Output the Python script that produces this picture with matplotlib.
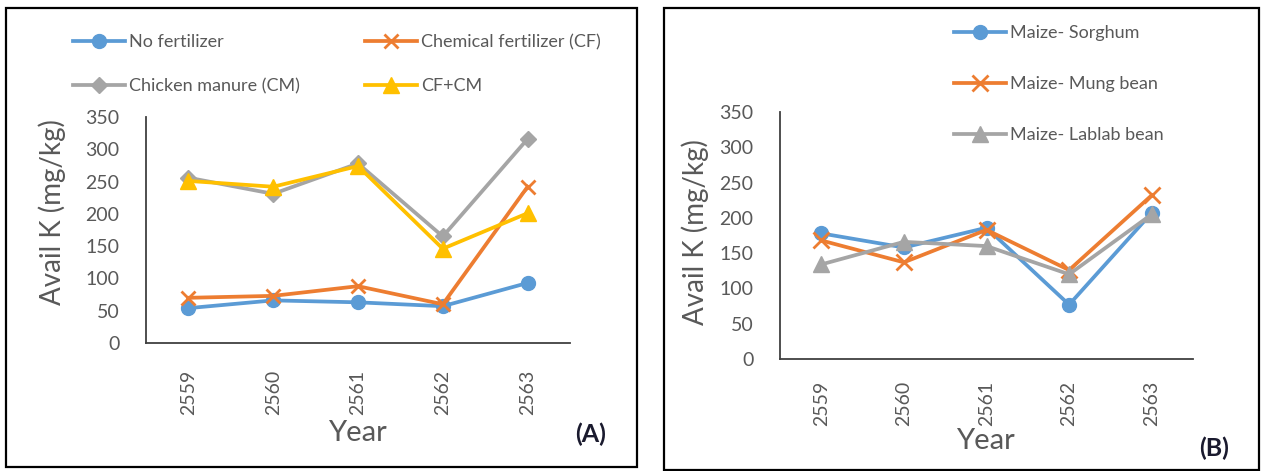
import matplotlib
matplotlib.use('Agg')
import matplotlib.pyplot as plt
from matplotlib.patches import Rectangle

# ---- data ----
years = ['2559', '2560', '2561', '2562', '2563']
a_no_fertilizer = [54, 66, 63, 57, 93]
a_chemical = [70, 73, 88, 60, 242]
a_manure = [256, 231, 278, 165, 316]
a_cf_cm = [251, 242, 274, 146, 201]
b_sorghum = [178, 158, 186, 77, 207]
b_mung = [168, 137, 183, 126, 232]
b_lablab = [134, 166, 160, 120, 205]
yticks = [0, 50, 100, 150, 200, 250, 300, 350]

BLUE, ORANGE, GRAY, YELLOW = '#5B9BD5', '#ED7D31', '#A5A5A5', '#FFC000'
TXT = '#595959'
FONT = 'Lato'
plt.rcParams['font.family'] = [FONT, 'DejaVu Sans']

W, H = 1264, 471
fig = plt.figure(figsize=(W / 100, H / 100), dpi=100)


def box(l, t, r, b):
    return [l / W, 1 - b / H, (r - l) / W, (b - t) / H]


def frame(l, t, r, b):
    rect = Rectangle((l / W, 1 - b / H), (r - l) / W, (b - t) / H,
                     transform=fig.transFigure, fill=False, lw=1.6, ec='black')
    fig.patches.append(rect)


frame(6, 8, 637, 467)
frame(664, 8, 1259, 470)

styles_a = [
    (a_no_fertilizer, 'No fertilizer', BLUE, 'o', 10),
    (a_chemical, 'Chemical fertilizer (CF)', ORANGE, 'x', 10),
    (a_manure, 'Chicken manure (CM)', GRAY, 'D', 8.5),
    (a_cf_cm, 'CF+CM', YELLOW, '^', 11),
]
styles_b = [
    (b_sorghum, 'Maize- Sorghum', BLUE, 'o', 10),
    (b_mung, 'Maize- Mung bean', ORANGE, 'x', 11),
    (b_lablab, 'Maize- Lablab bean', GRAY, '^', 11),
]


def setup(ax, ypad, xpad):
    ax.set_xlim(-0.5, 4.5)
    ax.set_ylim(0, 350)
    ax.set_yticks(yticks)
    ax.set_xticks(range(len(years)))
    ax.set_xticklabels(years, rotation=90)
    for s in ['top', 'right']:
        ax.spines[s].set_visible(False)
    for s in ['left', 'bottom']:
        ax.spines[s].set_color('#404040')
        ax.spines[s].set_linewidth(1.3)
    ax.tick_params(axis='y', length=0, pad=ypad, labelsize=14, labelcolor=TXT)
    ax.tick_params(axis='x', length=0, pad=xpad, labelsize=14, labelcolor=TXT)
    ax.patch.set_alpha(0)


def draw(ax, styles):
    handles = []
    for vals, label, col, mk, ms in styles:
        mew = 2.0 if mk == 'x' else 1
        ln, = ax.plot(range(len(years)), vals, color=col, lw=2.7, marker=mk,
                      markersize=ms, markeredgewidth=mew, markeredgecolor=col,
                      markerfacecolor=col, label=label, clip_on=False)
        handles.append(ln)
    return handles


# ---- panel A ----
axA = fig.add_axes(box(146, 117, 570, 343))
setup(axA, 19, 19)
hA = draw(axA, styles_a)
fig.text(52 / W, 1 - 212 / H, 'Avail K (mg/kg)', rotation=90, ha='center',
         va='center', fontsize=20, color=TXT)
fig.text(357 / W, 1 - 433 / H, 'Year', ha='center', va='center',
         fontsize=21, color=TXT)
fig.text(591 / W, 1 - 434 / H, '(A)', ha='center', va='center',
         fontsize=18, fontweight='bold', color='#1a1a2e')

legkw = dict(frameon=False, fontsize=13, handlelength=2.9, handletextpad=0.2,
             borderpad=0, borderaxespad=0, loc='upper left', labelcolor=TXT)
fig.legend([hA[0], hA[2]], [styles_a[0][1], styles_a[2][1]],
           bbox_to_anchor=(73 / W, 1 - 34 / H), labelspacing=1.55, **legkw)
fig.legend([hA[1], hA[3]], [styles_a[1][1], styles_a[3][1]],
           bbox_to_anchor=(365 / W, 1 - 34 / H), labelspacing=1.55, **legkw)

# ---- panel B ----
axB = fig.add_axes(box(780, 112, 1193, 359))
setup(axB, 19, 16)
hB = draw(axB, styles_b)
fig.text(695 / W, 1 - 232 / H, 'Avail K (mg/kg)', rotation=90, ha='center',
         va='center', fontsize=20, color=TXT)
fig.text(985 / W, 1 - 441 / H, 'Year', ha='center', va='center',
         fontsize=21, color=TXT)
fig.text(1214 / W, 1 - 448 / H, '(B)', ha='center', va='center',
         fontsize=18, fontweight='bold', color='#1a1a2e')
fig.legend(hB, [s[1] for s in styles_b], bbox_to_anchor=(954 / W, 1 - 25 / H),
           labelspacing=1.95, **legkw)

fig.savefig('out.png', dpi=100, facecolor='white')
